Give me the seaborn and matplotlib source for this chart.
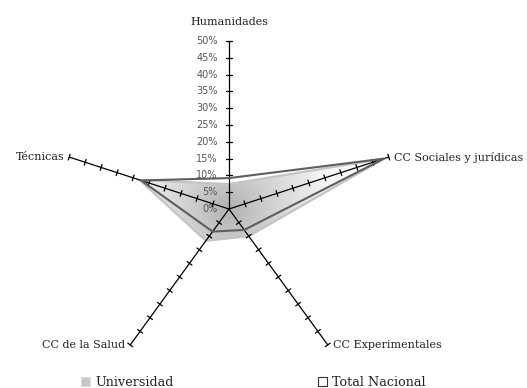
import numpy as np
import pandas as pd
import matplotlib
matplotlib.use("Agg")
import matplotlib.pyplot as plt
from matplotlib.patches import Patch, Polygon
import seaborn as sns

categories = ["Humanidades", "CC Sociales y jurídicas", "CC Experimentales",
              "CC de la Salud", "Técnicas"]
universidad = [7.4, 48.5, 10.0, 11.7, 28.0]
total_nacional = [9.2, 48.5, 7.7, 8.3, 27.5]
scale_ticks = [0, 5, 10, 15, 20, 25, 30, 35, 40, 45, 50]
scale_labels = [f"{t}%" for t in scale_ticks]
series_names = ["Universidad", "Total Nacional"]

sns.set_theme(style="white")
plt.rcParams["font.family"] = ["DejaVu Serif"]

# spokes start at the top and go clockwise
angles = np.deg2rad(90 - 72 * np.arange(len(categories)))
rmax = scale_ticks[-1]


def to_xy(vals):
    v = np.asarray(vals, dtype=float)
    x = v * np.cos(angles)
    y = v * np.sin(angles)
    return np.append(x, x[0]), np.append(y, y[0])


fig = plt.figure(figsize=(5.27, 3.88), dpi=100)
ax = fig.add_axes([0, 0, 1, 1])
ppu = 3.36  # pixels per percent
cx, cy = 229, 388 - 209
ax.set_xlim(-cx / ppu, (527 - cx) / ppu)
ax.set_ylim(-cy / ppu, (388 - cy) / ppu)
ax.set_axis_off()

# Universidad: radial grey gradient clipped to the polygon
ux, uy = to_xy(universidad)
gx = np.linspace(-rmax, rmax, 400)
GX, GY = np.meshgrid(gx, gx)
R = np.clip(np.hypot(GX, GY) / 32, 0, 1)
shade = 0.68 + 0.29 * R ** 0.8
img = ax.imshow(shade, extent=(-rmax, rmax, -rmax, rmax), origin="lower",
                cmap="gray", vmin=0, vmax=1, zorder=1, interpolation="bilinear")
poly = Polygon(np.column_stack([ux, uy]), closed=True, transform=ax.transData,
               facecolor="none", edgecolor="none")
ax.add_patch(poly)
img.set_clip_path(poly)
sns.lineplot(x=ux, y=uy, sort=False, estimator=None, color="#c4c4c4",
             linewidth=1.6, ax=ax, zorder=2)

# spokes with tick marks
tick_len = 0.9
for a in angles:
    ax.plot([0, rmax * np.cos(a)], [0, rmax * np.sin(a)], color="black",
            linewidth=0.9, zorder=3)
    px, py = -np.sin(a), np.cos(a)
    for t in scale_ticks[1:]:
        bx, by = t * np.cos(a), t * np.sin(a)
        ax.plot([bx - px * tick_len, bx + px * tick_len],
                [by - py * tick_len, by + py * tick_len],
                color="black", linewidth=0.9, zorder=3)

# Total Nacional outline
tx, ty = to_xy(total_nacional)
sns.lineplot(x=tx, y=ty, sort=False, estimator=None, color="#5e5e5e",
             linewidth=1.5, ax=ax, zorder=4)

# scale labels along the top spoke
for t, lab in zip(scale_ticks, scale_labels):
    ax.text(-3.4, t, lab, ha="right", va="center", fontsize=7.0,
            color="#555555", family=["DejaVu Sans"], zorder=5)

# category labels
pad = 1.5
for cat, a in zip(categories, angles):
    ex, ey = rmax * np.cos(a), rmax * np.sin(a)
    c = np.cos(a)
    if abs(c) < 0.1:
        ax.text(ex, ey + 5.6, cat, ha="center", va="center", fontsize=8.0, color="#222222")
    elif c > 0:
        ax.text(ex + pad, ey, cat, ha="left", va="center", fontsize=8.0, color="#222222")
    else:
        ax.text(ex - pad, ey, cat, ha="right", va="center", fontsize=8.0, color="#222222")

handles = [Patch(facecolor="#c8c8c8", edgecolor="#dcdcdc", linewidth=0.8),
           Patch(facecolor="white", edgecolor="#333333", linewidth=0.8)]
fig.legend(handles, series_names, loc="lower center", bbox_to_anchor=(0.481, -0.031),
           ncol=2, frameon=False, fontsize=9.2, columnspacing=11.3,
           handlelength=0.7, handleheight=0.7, handletextpad=0.4,
           labelcolor="#222222")

fig.savefig("out.png", dpi=100)
